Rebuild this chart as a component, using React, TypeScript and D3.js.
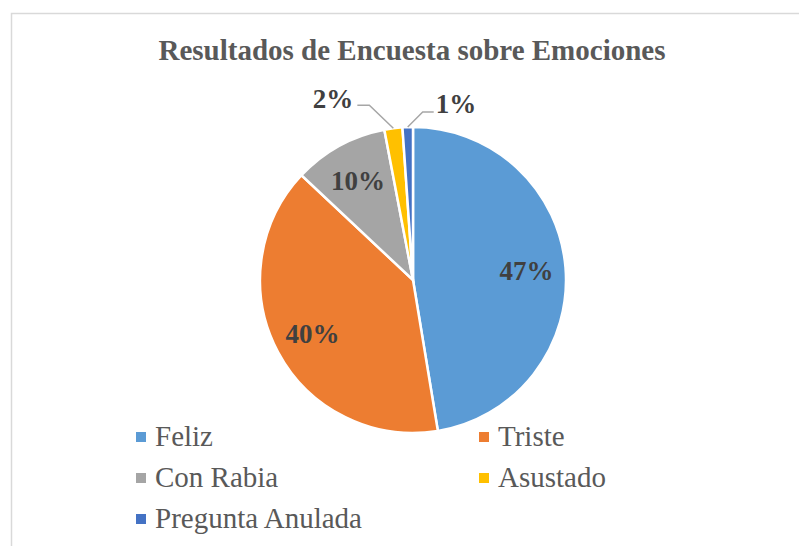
import React from "react";
import * as d3 from "d3";

const categories = ["Feliz", "Triste", "Con Rabia", "Asustado", "Pregunta Anulada"];
const values = [47.4, 39.6, 10.0, 1.9, 1.1];
const colors = ["#5B9BD5", "#ED7D31", "#A5A5A5", "#FFC000", "#4472C4"];
const title = "Resultados de Encuesta sobre Emociones";

const W = 799;
const H = 546;
const cx = 413;
const cy = 280;
const R = 153;
const FONT = "'Liberation Serif', 'Times New Roman', serif";

export default function App() {
  const total = d3.sum(values);
  const pie = d3.pie<number>().sort(null).value((d) => d)(values);
  const arc = d3.arc<d3.PieArcDatum<number>>().innerRadius(0).outerRadius(R);
  const labelArc = d3.arc<d3.PieArcDatum<number>>().innerRadius(114).outerRadius(114);
  const pct = (v: number) => `${Math.round((v / total) * 100)}%`;

  // outside labels for small slices
  const outside: Record<number, { dx: number; dy: number; hx: number; anchor: "start" | "end" }> = {
    3: { dx: -24, dy: -23, hx: -12, anchor: "end" },
    4: { dx: 15, dy: -15, hx: 11, anchor: "start" },
  };

  const legendRows = [
    [0, 1],
    [2, 3],
    [4],
  ];
  const colX = [136, 479];
  const rowY = [446, 487, 528];

  return (
    <div style={{ position: "absolute", left: 0, top: 0 }}>
      <svg width={W} height={H} style={{ display: "block" }}>
        <rect x={0} y={0} width={W} height={H} fill="#fff" />
        <rect x={11.5} y={13.5} width={W + 10} height={H + 10} fill="none" stroke="#D9D9D9" strokeWidth={1.5} />
        <text x={412} y={60} textAnchor="middle" fontFamily={FONT} fontWeight="bold" fontSize={29} fill="#595959">
          {title}
        </text>
        <g transform={`translate(${cx},${cy})`}>
          {pie.map((p, i) => (
            <path key={i} d={arc(p) || ""} fill={colors[i]} stroke="#fff" strokeWidth={2.5} strokeLinejoin="miter" />
          ))}
          {pie.map((p, i) => {
            if (outside[i]) {
              const o = outside[i];
              const mid = (p.startAngle + p.endAngle) / 2;
              const sx = Math.sin(mid) * R;
              const sy = -Math.cos(mid) * R;
              const ex = sx + o.dx;
              const ey = sy + o.dy;
              const hx = ex + o.hx;
              return (
                <g key={i}>
                  <polyline
                    points={`${sx},${sy} ${ex},${ey} ${hx},${ey}`}
                    fill="none"
                    stroke="#A6A6A6"
                    strokeWidth={1.5}
                  />
                  <text
                    x={hx + (o.anchor === "end" ? -4 : 2)}
                    y={ey + (o.anchor === "end" ? 3 : 1)}
                    textAnchor={o.anchor}
                    fontFamily={FONT}
                    fontWeight="bold"
                    fontSize={27}
                    fill="#404040"
                  >
                    {pct(values[i])}
                  </text>
                </g>
              );
            }
            const [lx, ly] = labelArc.centroid(p);
            return (
              <text
                key={i}
                x={lx}
                y={ly}
                dy="0.35em"
                textAnchor="middle"
                fontFamily={FONT}
                fontWeight="bold"
                fontSize={27}
                fill="#404040"
              >
                {pct(values[i])}
              </text>
            );
          })}
        </g>
        <g>
          {legendRows.map((row, r) =>
            row.map((ci, c) => (
              <g key={`${r}-${c}`}>
                <rect x={colX[c]} y={rowY[r] - 14} width={10} height={10} fill={colors[ci]} />
                <text x={colX[c] + 19} y={rowY[r]} fontFamily={FONT} fontSize={29} fill="#595959">
                  {categories[ci]}
                </text>
              </g>
            ))
          )}
        </g>
      </svg>
    </div>
  );
}
